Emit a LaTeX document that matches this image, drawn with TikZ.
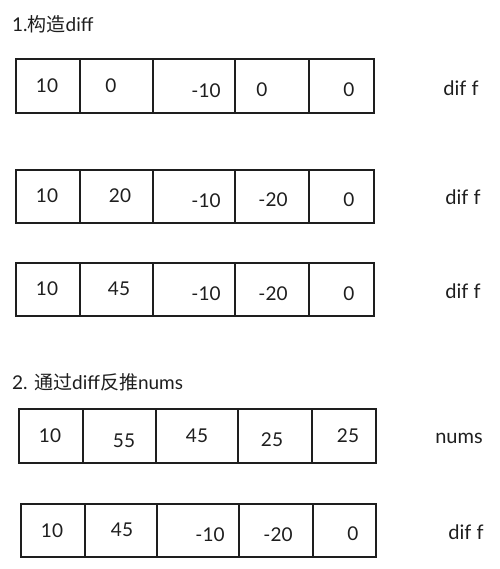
\documentclass[tikz,border=0pt]{standalone}
\usepackage{fontspec}
\setmainfont{Lato}
\newfontfamily\cjk{Noto Sans CJK SC}
\definecolor{ink}{HTML}{1E1E1E}
\begin{document}
\begin{tikzpicture}[x=1pt,y=-1pt,
  cellbox/.style={draw=ink,line width=1.1pt},
  num/.style={text=ink,font=\fontsize{19}{22}\selectfont,inner sep=0pt},
  lbl/.style={text=ink,font=\fontsize{20}{23}\selectfont,inner sep=0pt},
  ttl/.style={text=ink,font=\fontsize{19}{22}\selectfont,inner sep=0pt,anchor=west}]
\useasboundingbox (0,0) rectangle (499,569);
\fill[white] (0,0) rectangle (499,569);

% titles
\node[ttl] (t1) at (12,24) {1.{\cjk 构造}diff};
\node[ttl] (t2) at (12,382) {2. {\cjk 通过}diff{\cjk 反推}nums};

% row 1
\foreach \a/\b in {16/80,80/153,153/235,235/309,309/374}
  \draw[cellbox] (\a,59) rectangle (\b,113);
\node[num] (r1a) at (47,86) {10};
\node[num] (r1b) at (111,86) {0};
\node[num] (r1c) at (206,91) {-10};
\node[num] (r1d) at (262,90) {0};
\node[num] (r1e) at (349,90) {0};
\node[lbl] (r1l) at (461,88) {dif f};

% row 2
\foreach \a/\b in {16/80,80/153,153/235,235/309,309/374}
  \draw[cellbox] (\a,170) rectangle (\b,223);
\node[num] (r2a) at (47,196) {10};
\node[num] (r2b) at (120,196) {20};
\node[num] (r2c) at (206,201) {-10};
\node[num] (r2d) at (273,200) {-20};
\node[num] (r2e) at (349,200) {0};
\node[lbl] (r2l) at (463,197) {dif f};

% row 3
\foreach \a/\b in {16/80,80/153,153/235,235/309,309/374}
  \draw[cellbox] (\a,263) rectangle (\b,316);
\node[num] (r3a) at (47,289) {10};
\node[num] (r3b) at (119,289) {45};
\node[num] (r3c) at (206,294) {-10};
\node[num] (r3d) at (273,294) {-20};
\node[num] (r3e) at (349,294) {0};
\node[lbl] (r3l) at (463,291) {dif f};

% row 4
\foreach \a/\b in {19/83,83/156,156/238,238/312,312/376}
  \draw[cellbox] (\a,409) rectangle (\b,463);
\node[num] (r4a) at (50,436) {10};
\node[num] (r4b) at (124,441) {55};
\node[num] (r4c) at (197,436) {45};
\node[num] (r4d) at (272,440) {25};
\node[num] (r4e) at (348,436) {25};
\node[lbl] (r4l) at (459,438) {nums};

% row 5
\foreach \a/\b in {21/85,85/157,157/239,239/313,313/376}
  \draw[cellbox] (\a,504) rectangle (\b,557);
\node[num] (r5a) at (52,531) {10};
\node[num] (r5b) at (122,530) {45};
\node[num] (r5c) at (210,535) {-10};
\node[num] (r5d) at (278,535) {-20};
\node[num] (r5e) at (353,534) {0};
\node[lbl] (r5l) at (466,532) {dif f};
\end{tikzpicture}
\end{document}
